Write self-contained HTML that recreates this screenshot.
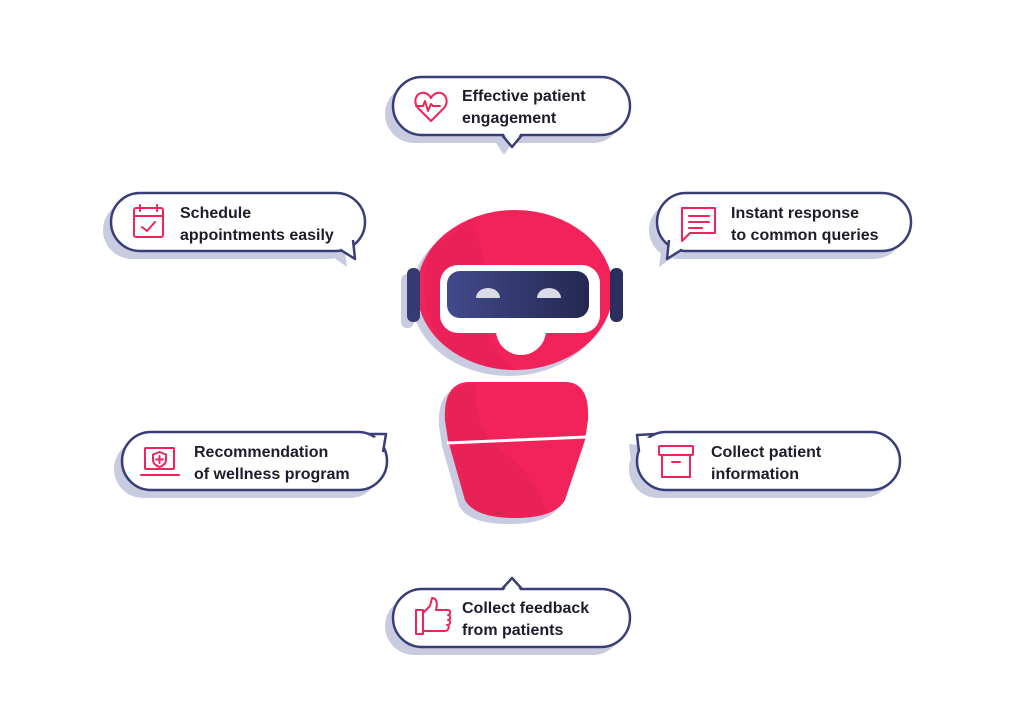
<!DOCTYPE html>
<html><head><meta charset="utf-8"><style>
html,body{margin:0;padding:0;background:#fff;}
svg{display:block}
text{font-family:"Liberation Sans",sans-serif;font-weight:bold;font-size:16px;fill:#1c1c2c;}
</style></head><body>
<svg width="1024" height="724" viewBox="0 0 1024 724" xmlns="http://www.w3.org/2000/svg">
<defs>
<linearGradient id="vis" x1="0" x2="1" y1="0" y2="0"><stop offset="0" stop-color="#424a8c"/><stop offset="1" stop-color="#242850"/></linearGradient>
</defs>
<rect width="1024" height="724" fill="#fff"/>
<!-- shadows -->
<g fill="#c9cbe0">
<rect x="385" y="85" width="237" height="58" rx="29"/><polygon points="494,140 504,155 514,140"/>
<rect x="103" y="201" width="254" height="58" rx="29"/><polygon points="330,255 347,267 344,245"/>
<rect x="649" y="201" width="254" height="58" rx="29"/><polygon points="662,245 659,267 676,255"/>
<rect x="114" y="440" width="265" height="58" rx="29"/>
<rect x="629" y="440" width="263" height="58" rx="29"/><polygon points="631,462 629,444 650,446"/>
<rect x="385" y="597" width="237" height="58" rx="29"/><polygon points="494,598 504,586 514,598"/>
</g>
<g stroke="#3a3e78" stroke-width="2.5" fill="#fff" stroke-linejoin="round">
<!-- 1 -->
<rect x="393" y="77" width="237" height="58" rx="29"/>
<polygon points="502,131 512,147 522,131" stroke="none"/><polyline points="502,135 512,147 522,135" fill="none"/>
<!-- 2 -->
<rect x="111" y="193" width="254" height="58" rx="29"/>
<polygon points="336,246 355,259 353,236" stroke="none"/><polyline points="340,249.5 355,259 353,240" fill="none"/>
<!-- 3 -->
<rect x="657" y="193" width="254" height="58" rx="29"/>
<polygon points="669,236 667,259 686,246" stroke="none"/><polyline points="669,240 667,259 682,249.5" fill="none"/>
<!-- 4 -->
<rect x="122" y="432" width="265" height="58" rx="29"/>
<polygon points="366,440 386,434 384,454" stroke="none"/><polyline points="368,434 386,434 383,452" fill="none"/>
<!-- 5 -->
<rect x="637" y="432" width="263" height="58" rx="29"/>
<polygon points="641,454 637,435 658,440" stroke="none"/><polyline points="639,452 637,435 656,434" fill="none"/>
<!-- 6 -->
<rect x="393" y="589" width="237" height="58" rx="29"/>
<polygon points="502,593 512,578 522,593" stroke="none"/><polyline points="502,589 512,578 522,589" fill="none"/>
</g>
<!-- icons -->
<g fill="none" stroke="#f0235a" stroke-width="2" stroke-linejoin="round" stroke-linecap="round">
<!-- heart -->
<path d="M431,121 L418,108 C412,101 417,91 425,93 C428,94 430,96 431,98 C432,96 434,94 437,93 C445,91 450,101 444,108 Z"/>
<polyline points="416,106 423,106 425,101 428,111 431,104 433,106 440,106"/>
<!-- calendar -->
<rect x="134" y="208" width="29" height="29" rx="2"/><line x1="134" y1="216" x2="163" y2="216"/>
<line x1="140" y1="205" x2="140" y2="211"/><line x1="157" y1="205" x2="157" y2="211"/>
<polyline points="142,227 147,231 155,222"/>
<!-- chat -->
<path d="M682,208 H715 V233 H690 L682,241 Z"/>
<line x1="689" y1="216" x2="709" y2="216"/><line x1="689" y1="222" x2="709" y2="222"/><line x1="689" y1="228" x2="702" y2="228"/>
<!-- laptop shield -->
<rect x="145" y="448" width="29" height="21" rx="1"/><line x1="141" y1="475" x2="179" y2="475"/>
<path d="M159.5,452 L166,454.5 V460 C166,464 162,466 159.5,467 C157,466 153,464 153,460 V454.5 Z"/>
<line x1="159.5" y1="456" x2="159.5" y2="463"/><line x1="156" y1="459.5" x2="163" y2="459.5"/>
<!-- box -->
<rect x="659" y="446" width="34" height="9" rx="1"/><rect x="662" y="455" width="28" height="22"/><line x1="672" y1="462" x2="680" y2="462"/>
<!-- thumbs -->
<rect x="416" y="610" width="7" height="24"/>
<path d="M423,613 L430,606 L432,598 C436,598 438,602 436,610 H448 C451,610 451,615 448,615 C451,615 451,620 448,620 C451,620 451,625 447,625 C450,625 449,631 445,631 H423 Z"/>
</g>
<!-- text -->
<text x="462" y="101">Effective patient</text><text x="462" y="123">engagement</text>
<text x="180" y="218">Schedule</text><text x="180" y="240">appointments easily</text>
<text x="731" y="218">Instant response</text><text x="731" y="240">to common queries</text>
<text x="194" y="457">Recommendation</text><text x="194" y="479">of wellness program</text>
<text x="711" y="457">Collect patient</text><text x="711" y="479">information</text>
<text x="462" y="613">Collect feedback</text><text x="462" y="635">from patients</text>
<!-- robot shadow -->
<g fill="#c9cbe0">
<ellipse cx="509" cy="296" rx="98" ry="80"/>
<rect x="401" y="274" width="13" height="54" rx="6"/>
<path d="M464,388 L559,388 Q584,388 582,426 L579,446 L559,506 Q549,524 509,524 Q469,524 459,506 L442,446 L439,426 Q437,388 464,388 Z"/>
</g>
<!-- head -->
<ellipse cx="515" cy="290" rx="98" ry="80" fill="#f1235a"/>
<path d="M470,222 Q490,260 485,300 Q480,340 515,370 Q470,370 440,340 Q415,300 430,250 Z" fill="#e21f55" opacity="0.5"/>
<rect x="407" y="268" width="13" height="54" rx="6" fill="#363b74"/>
<rect x="610" y="268" width="13" height="54" rx="6" fill="#2b2f5e"/>
<rect x="440" y="265" width="160" height="68" rx="18" fill="#fff"/>
<circle cx="521" cy="330" r="25" fill="#fff"/>
<rect x="447" y="271" width="142" height="47" rx="13" fill="url(#vis)"/>
<path d="M476,298 a12,10 0 0 1 24,0 Z" fill="#d9dbe6"/>
<path d="M537,298 a12,10 0 0 1 24,0 Z" fill="#d9dbe6"/>
<!-- body -->
<path d="M470,382 L565,382 Q590,382 588,420 L585,440 L565,500 Q555,518 515,518 Q475,518 465,500 L448,440 L445,420 Q443,382 470,382 Z" fill="#f1235a"/>
<path d="M476,384 Q470,420 500,450 Q540,480 545,512 Q530,518 515,518 Q475,518 465,500 L448,440 L445,420 Q443,384 476,384 Z" fill="#e21f55" opacity="0.6"/>
<path d="M447,443 L587,437" stroke="#fff" stroke-width="3"/>
</svg>
</body></html>
